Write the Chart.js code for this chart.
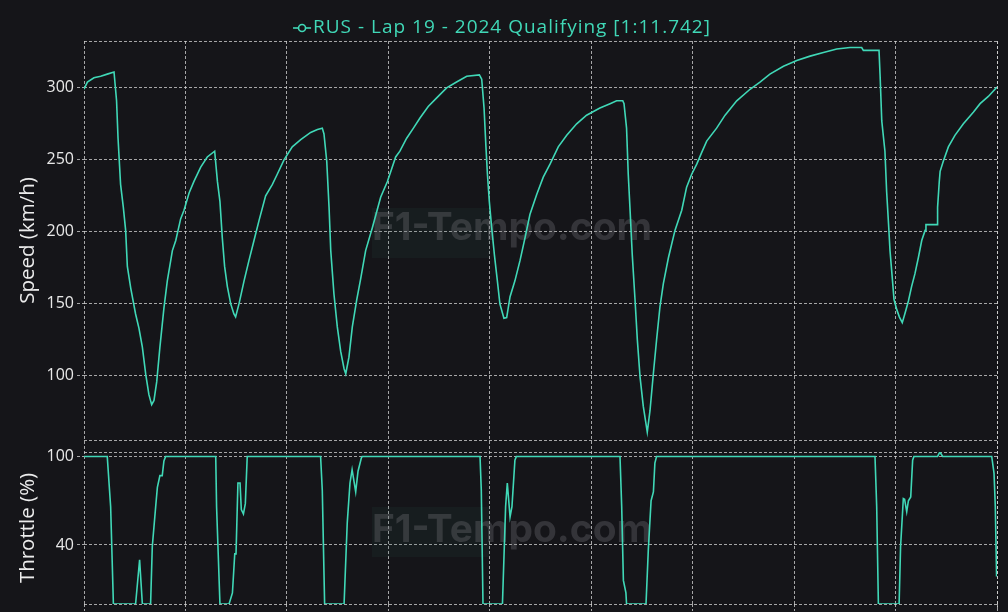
<!DOCTYPE html>
<html>
<head>
<meta charset="utf-8">
<title>RUS - Lap 19 - 2024 Qualifying</title>
<script src="https://cdn.jsdelivr.net/npm/chart.js@4.4.1/dist/chart.umd.min.js"></script>
<style>
    html, body { margin: 0; padding: 0; background: #151519; overflow: hidden; }
    #wrap { width: 1008px; height: 650px; }
</style>
</head>
<body>
<div id="wrap"><canvas id="telemetry" width="1008" height="650"></canvas></div>
<script>
const lapTitle = 'RUS - Lap 19 - 2024 Qualifying [1:11.742]';
const lapLength = 4318; // metres

// speed trace (distance in m, speed in km/h)
const speedDist = [
    0, 16, 47, 79, 110, 142, 154, 161, 173, 186,
    197, 205, 221, 244, 260, 276, 292, 307, 320, 331,
    344, 359, 378, 394, 418, 434, 457, 473, 497, 520,
    552, 583, 618, 631, 643, 654, 665, 678, 694, 709,
    717, 733, 757, 780, 804, 828, 859, 891, 914, 946,
    985, 1025, 1072, 1104, 1127, 1135, 1148, 1159, 1167, 1182,
    1198, 1214, 1230, 1238, 1253, 1269, 1290, 1308, 1332, 1364,
    1403, 1435, 1474, 1494, 1526, 1558, 1589, 1628, 1668, 1715,
    1762, 1810, 1870, 1881, 1892, 1901, 1908, 1917, 1928, 1941,
    1955, 1967, 1986, 1999, 2015, 2038, 2062, 2086, 2109, 2141,
    2172, 2204, 2243, 2283, 2330, 2377, 2440, 2488, 2519, 2548,
    2554, 2566, 2574, 2582, 2593, 2606, 2617, 2630, 2645, 2664,
    2677, 2693, 2708, 2724, 2740, 2764, 2795, 2827, 2850, 2874,
    2898, 2921, 2945, 2992, 3032, 3087, 3150, 3197, 3244, 3308,
    3371, 3434, 3497, 3560, 3623, 3678, 3686, 3760, 3765, 3773,
    3788, 3796, 3806, 3812, 3821, 3831, 3844, 3856, 3870, 3883,
    3899, 3914, 3930, 3946, 3962, 3978, 3982, 4036, 4037, 4045,
    4049, 4064, 4088, 4119, 4159, 4206, 4238, 4277, 4318
];
const speedKmh = [
    299, 304, 307, 308, 309.5, 311, 291, 265, 233, 217,
    201, 176, 161, 143, 133, 120, 101, 87, 80, 83,
    96, 120, 147, 166, 187, 194, 209, 215, 227, 235,
    245, 252, 256, 235, 221, 196, 176, 162, 150, 143,
    141, 150, 166, 180, 194, 208, 225, 233, 240, 250,
    259, 264, 269, 271, 272, 268, 249, 217, 187, 157,
    134, 117, 105, 101.5, 113, 134, 153, 167, 187, 203,
    224, 235, 252, 256, 265, 272, 279, 287, 293, 300,
    304, 308, 309, 306, 286, 259, 240, 221, 203, 184,
    166, 150, 140, 140.5, 155, 166, 180, 196, 212, 226,
    238, 247, 259, 267, 275, 281, 286, 289, 291, 291,
    289, 272, 240, 217, 184, 153, 125, 99, 79, 61,
    76, 102, 125, 148, 164, 182, 201, 215, 231, 240,
    247, 255, 263, 272, 281, 291, 299, 304, 309.5, 315,
    319, 322, 324.5, 327, 328, 328, 326, 326, 309, 277,
    256, 228, 203, 187, 171, 153, 146, 141, 137, 143.5,
    152, 162, 171, 182, 194, 201, 205, 205, 217, 235,
    242, 249, 259, 267, 275, 283, 289, 294, 300.5
];

// throttle trace (distance in m, throttle in %)
const throttleDist = [
    0, 110, 126, 139, 244, 263, 276, 315, 323, 339,
    347, 359, 370, 378, 386, 623, 627, 643, 686, 702,
    713, 719, 728, 738, 744, 754, 763, 772, 1119, 1127,
    1138, 1230, 1245, 1258, 1268, 1285, 1296, 1312, 1316, 1873,
    1879, 1887, 1979, 1994, 2002, 2015, 2024, 2038, 2045, 2535,
    2543, 2551, 2563, 2566, 2658, 2669, 2682, 2693, 2700, 2708,
    3741, 3749, 3757, 3855, 3862, 3875, 3881, 3891, 3899, 3910,
    3919, 3925, 4037, 4048, 4061, 4293, 4304, 4310, 4316
];
const throttlePct = [
    100, 100, 66, 0, 0, 30, 0, 0, 39, 66,
    79, 87, 87, 97, 100, 100, 66, 0, 0, 7.5,
    34, 34, 82, 82, 64, 61, 68, 100, 100, 77,
    0, 0, 55, 82, 91, 76, 90, 99, 100, 100,
    77, 0, 0, 66, 82, 59, 66, 97.5, 100, 100,
    66, 16, 7.5, 0, 0, 37, 70, 76, 95.5, 100,
    100, 66, 0, 0, 39, 71.5, 71, 62.5, 70, 72.5,
    97.5, 100, 100, 103, 100, 100, 88.5, 66, 18.6
];

const speedTicks = [100, 150, 200, 250, 300];
const throttleTicks = [40, 100];
const distanceStep = 500;

const bg = '#151519';
const teal = '#40d8b7';
const gridColor = 'rgba(215, 215, 215, 0.75)';
const dash = [3, 2];

function toPoints(xs, ys) {
    return xs.map((x, i) => ({ x: x, y: ys[i] }));
}

function alignPx(p) {
    return Math.round(p - 0.5) + 0.5;
}

const gridOpts = {
    color: gridColor,
    lineWidth: 1,
    drawTicks: true,
    tickLength: 7,
    tickColor: gridColor,
    tickBorderDash: dash
};
const tickFont = { family: '"Open Sans", "Noto Sans", sans-serif', size: 16 };
const titleFont = { family: '"Open Sans", "Noto Sans", sans-serif', size: 20.5 };

// background, frame lines, watermark and header
const panelPlugin = {
    id: 'panels',
    beforeDraw(chart) {
        const c = chart.ctx;
        c.save();
        c.fillStyle = bg;
        c.fillRect(0, 0, chart.width, chart.height);
        c.restore();
    },
    beforeDatasetsDraw(chart) {
        const c = chart.ctx;
        const { left, right, top, bottom } = chart.chartArea;
        const sp = chart.scales.speed;
        const th = chart.scales.throttle;

        c.save();
        // watermarks, stretched to the logo width
        c.font = 'bold 40px Inter, "DejaVu Sans", sans-serif';
        const wmSize = 40 * 280 / c.measureText('F1-Tempo.com').width;
        [[512, 228, 208], [512, 530, 507]].forEach(([cx, cy, by]) => {
            c.fillStyle = 'rgba(40, 90, 80, 0.12)';
            c.fillRect(cx - 140, by, 118, 50);
            c.font = 'bold ' + wmSize.toFixed(1) + 'px Inter, "DejaVu Sans", sans-serif';
            c.fillStyle = 'rgba(125, 125, 132, 0.30)';
            c.textAlign = 'center';
            c.textBaseline = 'middle';
            c.fillText('F1-Tempo.com', cx, cy);
        });

        // panel frames
        c.strokeStyle = gridColor;
        c.lineWidth = 1;
        c.setLineDash(dash);
        [sp.top, sp.bottom, th.top, th.bottom].forEach(y => {
            const yy = alignPx(y);
            c.beginPath();
            c.moveTo(left, yy);
            c.lineTo(right, yy);
            c.stroke();
        });
        const xx = alignPx(right);
        c.beginPath();
        c.moveTo(xx, top);
        c.lineTo(xx, bottom + 7);
        c.stroke();
        c.restore();
    },
    afterDraw(chart) {
        const c = chart.ctx;
        c.save();
        c.font = '19px "Open Sans", "Noto Sans", sans-serif';
        c.letterSpacing = '1px';
        const textW = c.measureText(lapTitle).width;
        const iconW = 18;
        const total = iconW + 2 + textW;
        const x0 = 502 - total / 2;
        const y = 28;

        // "-o-" marker
        c.strokeStyle = teal;
        c.lineWidth = 1.6;
        c.beginPath();
        c.moveTo(x0, y);
        c.lineTo(x0 + iconW, y);
        c.stroke();
        c.beginPath();
        c.arc(x0 + iconW / 2, y, 3.5, 0, Math.PI * 2);
        c.fillStyle = bg;
        c.fill();
        c.stroke();

        c.fillStyle = teal;
        c.textAlign = 'left';
        c.textBaseline = 'middle';
        c.fillText(lapTitle, x0 + iconW + 2, y);
        c.restore();
    }
};

const ctx = document.getElementById('telemetry').getContext('2d');

const chart = new Chart(ctx, {
    type: 'line',
    data: {
        datasets: [
            {
                label: lapTitle,
                data: toPoints(speedDist, speedKmh),
                yAxisID: 'speed',
                borderColor: teal,
                borderWidth: 1.6,
                pointRadius: 0,
                tension: 0
            },
            {
                label: lapTitle,
                data: toPoints(throttleDist, throttlePct),
                yAxisID: 'throttle',
                borderColor: teal,
                borderWidth: 1.6,
                pointRadius: 0,
                tension: 0
            }
        ]
    },
    options: {
        responsive: false,
        animation: false,
        devicePixelRatio: 1,
        layout: { padding: { top: 41, right: 11, bottom: 0, left: 0 } },
        plugins: {
            legend: { display: false },
            tooltip: { enabled: false }
        },
        scales: {
            x: {
                type: 'linear',
                min: 0,
                max: lapLength,
                bounds: 'data',
                ticks: { display: false, stepSize: distanceStep, includeBounds: false },
                grid: gridOpts,
                border: { display: false, dash: dash },
                afterFit: s => { s.height = 46; }
            },
            speed: {
                type: 'linear',
                position: 'left',
                stack: 'panels',
                stackWeight: 399,
                weight: 3,
                min: 55.5,
                max: 332.5,
                ticks: { color: '#e8e8e8', font: tickFont, padding: 3 },
                afterBuildTicks: s => { s.ticks = speedTicks.map(v => ({ value: v })); },
                grid: gridOpts,
                border: { display: false, dash: dash },
                title: { display: true, text: 'Speed (km/h)', color: '#ececec', font: titleFont, padding: { top: 16, bottom: 0 } },
                afterFit: s => { s.width = 84; }
            },
            gap: {
                type: 'linear',
                position: 'left',
                stack: 'panels',
                stackWeight: 12,
                weight: 2,
                min: 0,
                max: 1,
                ticks: { display: false },
                grid: { display: false },
                border: { display: false },
                afterFit: s => { s.width = 84; }
            },
            throttle: {
                type: 'linear',
                position: 'left',
                stack: 'panels',
                stackWeight: 152,
                weight: 1,
                min: 0,
                max: 103,
                ticks: { color: '#e8e8e8', font: tickFont, padding: 3 },
                afterBuildTicks: s => { s.ticks = throttleTicks.map(v => ({ value: v })); },
                grid: gridOpts,
                border: { display: false, dash: dash },
                title: { display: true, text: 'Throttle (%)', color: '#ececec', font: titleFont, padding: { top: 16, bottom: 0 } },
                afterFit: s => { s.width = 84; }
            }
        }
    },
    plugins: [panelPlugin]
});
</script>
</body>
</html>
